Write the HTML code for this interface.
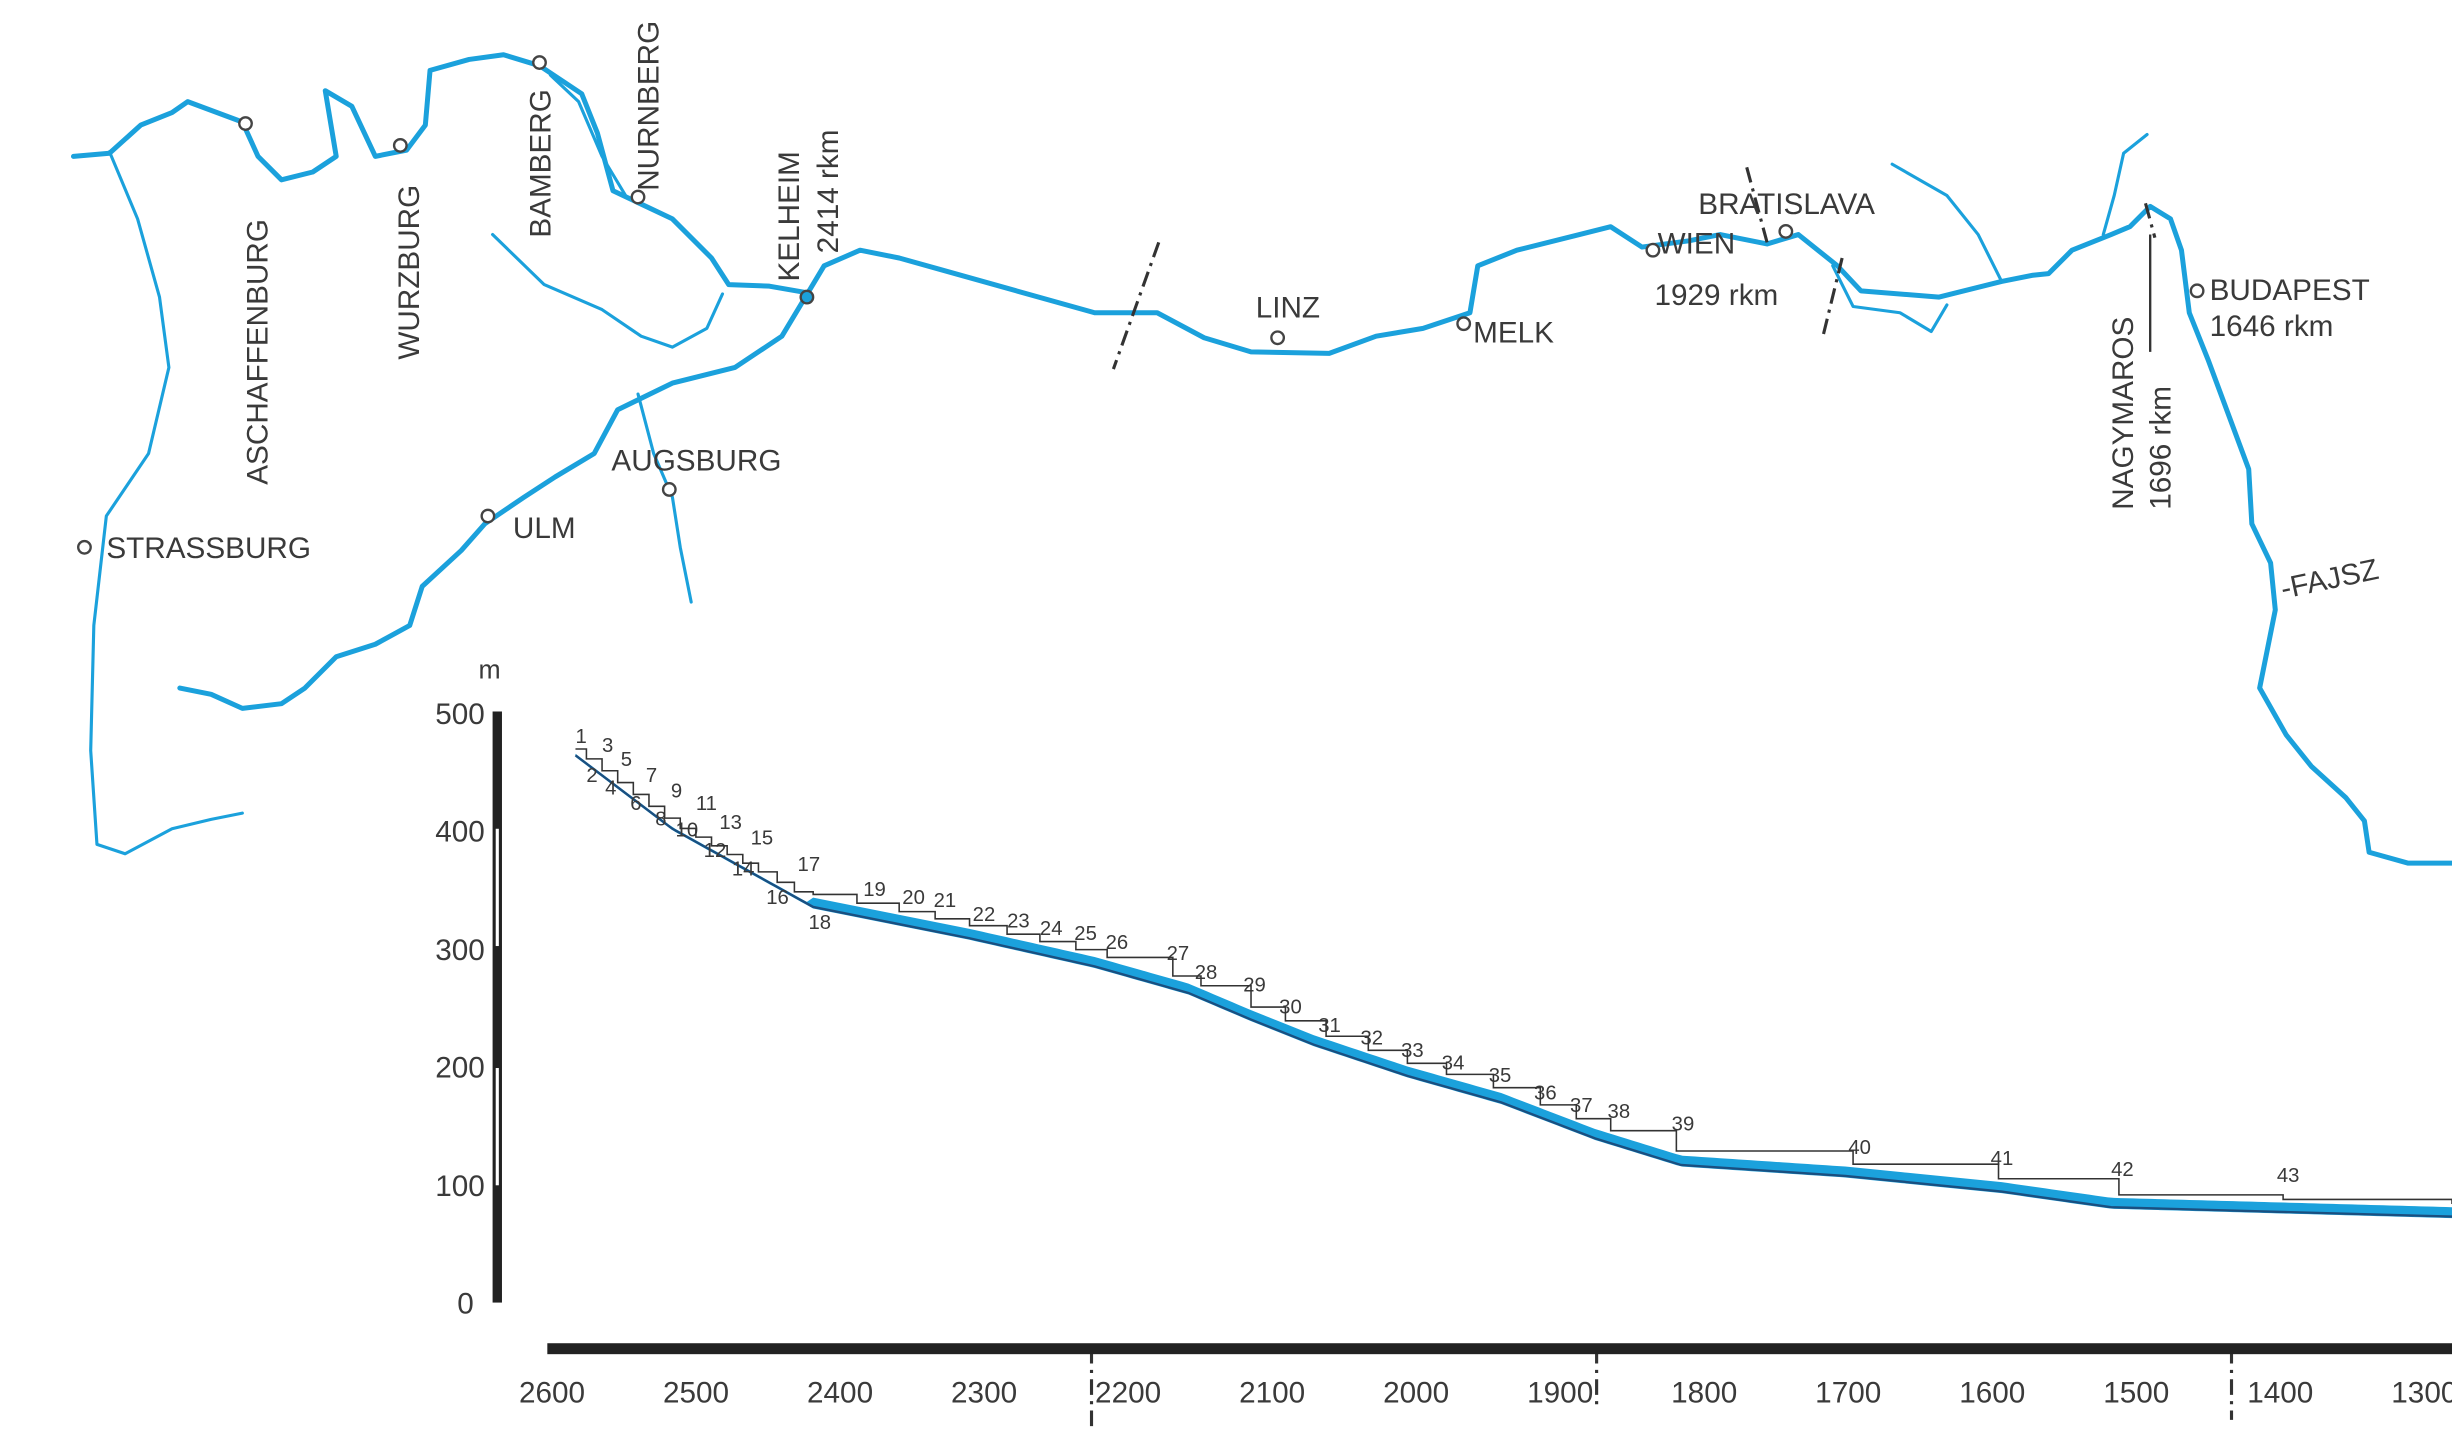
<!DOCTYPE html>
<html><head><meta charset="utf-8"><style>
html,body{margin:0;padding:0;background:#fff;}
svg{display:block}
text{font-family:"Liberation Sans",sans-serif;fill:#3a3a3a}
</style></head><body>
<svg id="s" width="2452" height="1448" viewBox="0 0 1568 926" preserveAspectRatio="none" xmlns="http://www.w3.org/2000/svg">
<g fill="none" stroke="#1ba1dc" stroke-width="3.2" stroke-linejoin="round" stroke-linecap="round">
<polyline points="115,440 135,444 155,453 180,450 195,440 215,420 240,412 262,400 270,375 295,352 310,335 335,318 355,305 380,290 395,262 430,245 470,235 500,215 515,190 527,170 550,160 575,165 600,172 650,186 700,200 740,200 770,216 800,225 850,226 880,215 910,210 940,200 945,170 970,160 1010,150 1030,145 1050,158 1080,154 1100,150 1130,156 1150,150 1175,170 1190,186 1240,190 1280,180 1300,176 1310,175 1325,160 1350,150 1362,145 1375,132 1388,140 1395,160 1400,200 1412,230 1425,265 1438,300 1440,335 1452,360 1455,390 1445,440 1462,470 1478,490 1500,510 1512,525 1515,545 1540,552 1568,552"/>
<polyline points="47,100 70,98 90,80 110,72 120,65 155,78 165,100 180,115 200,110 215,100 210,70 208,58 225,68 240,100 260,96 272,80 275,45 300,38 322,35 345,42 372,60 382,85 392,122 430,140 455,165 466,182 492,183 515,187"/>
<polyline stroke-width="2" points="70,97 88,140 102,190 108,235 95,290 68,330 60,400 58,480 62,540 80,546 110,530 135,524 155,520"/>
<polyline stroke-width="2" points="315,150 348,182 385,198 410,215 430,222 452,210 462,188"/>
<polyline stroke-width="2" points="408,252 418,290 430,318 435,350 442,385"/>
<polyline stroke-width="2" points="352,48 370,65 385,100 400,125"/>
<polyline stroke-width="2" points="1210,105 1245,125 1265,150 1280,180"/>
<polyline stroke-width="2" points="1172,170 1185,196 1215,200 1235,212 1245,195"/>
<polyline stroke-width="2" points="1373,86 1358,98 1352,125 1345,150"/>
</g>
<g fill="#fff" stroke="#444" stroke-width="1.5">
<circle cx="157" cy="79" r="4"/><circle cx="256" cy="93" r="4"/><circle cx="345" cy="40" r="4"/><circle cx="408" cy="126" r="4"/>
<circle cx="54" cy="350" r="4"/><circle cx="312" cy="330" r="4"/><circle cx="428" cy="313" r="4"/><circle cx="817" cy="216" r="4"/>
<circle cx="936" cy="207" r="4"/><circle cx="1057" cy="160" r="4"/><circle cx="1142" cy="148" r="4"/><circle cx="1405" cy="186" r="4"/>
<circle cx="516" cy="190" r="4" fill="#1ba1dc"/>
</g>
<g stroke="#333" stroke-width="2" stroke-dasharray="10,4,2,4" fill="none">
<line x1="741" y1="155" x2="712" y2="236"/><line x1="1117" y1="107" x2="1130" y2="155"/><line x1="1178" y1="165" x2="1166" y2="214"/>
<line x1="1372" y1="130" x2="1378" y2="152"/>
<line x1="698" y1="862" x2="698" y2="912"/><line x1="1021" y1="862" x2="1021" y2="900"/><line x1="1427" y1="862" x2="1427" y2="908"/>
</g>
<line x1="1375" y1="150" x2="1375" y2="225" stroke="#333" stroke-width="1.5"/>
<g font-size="19">
<text x="68" y="357">STRASSBURG</text>
<text transform="translate(171,310) rotate(-90)">ASCHAFFENBURG</text>
<text transform="translate(268,230) rotate(-90)">WURZBURG</text>
<text transform="translate(352,152) rotate(-90)">BAMBERG</text>
<text transform="translate(421,122) rotate(-90)">NURNBERG</text>
<text transform="translate(511,180) rotate(-90)">KELHEIM</text>
<text transform="translate(536,162) rotate(-90)">2414 rkm</text>
<text x="328" y="344">ULM</text>
<text x="391" y="301">AUGSBURG</text>
<text x="803" y="203">LINZ</text>
<text x="942" y="219">MELK</text>
<text x="1060" y="162">WIEN</text>
<text x="1058" y="195">1929 rkm</text>
<text x="1086" y="137">BRATISLAVA</text>
<text transform="translate(1364,326) rotate(-90)">NAGYMAROS</text>
<text transform="translate(1388,326) rotate(-90)">1696 rkm</text>
<text x="1413" y="192">BUDAPEST</text>
<text x="1413" y="215">1646 rkm</text>
<text transform="translate(1460,383) rotate(-12)">-FAJSZ</text>
</g>
<rect x="315" y="455" width="6" height="378" fill="#222"/>
<rect x="317" y="530" width="2" height="75" fill="#fff"/><rect x="317" y="683" width="2" height="75" fill="#fff"/>
<g font-size="19" text-anchor="end">
<text x="310" y="463">500</text><text x="310" y="538">400</text><text x="310" y="614">300</text><text x="310" y="689">200</text><text x="310" y="765">100</text><text x="303" y="840">0</text>
</g>
<text x="306" y="434" font-size="17">m</text>
<rect x="350" y="859" width="1218" height="7" fill="#222"/>
<g id="xl" font-size="19" text-anchor="middle"></g>
<g id="prof"></g>
</svg>
<script>
(function(){
var ns="http://www.w3.org/2000/svg";
function el(t,a,p,txt){var e=document.createElementNS(ns,t);for(var k in a)e.setAttribute(k,a[k]);if(txt!=null)e.textContent=txt;(p||document.getElementById('s')).appendChild(e);return e;}
var xl=document.getElementById('xl');
for(var i=0;i<14;i++){el('text',{x:353+i*92.1,y:897},xl,String(2600-i*100));}
var bed=[[368,483],[430,530],[520,580],[620,600],[700,618],[760,635],[800,652],[840,668],[900,688],[960,705],[1020,728],[1075,745],[1180,752],[1280,762],[1350,772],[1568,778]];
function by(x){for(var i=1;i<bed.length;i++){if(x<=bed[i][0]){var a=bed[i-1],b=bed[i];return a[1]+(b[1]-a[1])*(x-a[0])/(b[0]-a[0]);}}return bed[bed.length-1][1];}
var pr=document.getElementById('prof');
var upper=[],lower=[];for(var x=368;x<=1568;x+=4){upper.push(x+','+(by(x)-(x<520?1:6)));lower.unshift(x+','+(by(x)+1));}
el('polygon',{points:upper.concat(lower).join(' '),fill:'#1ba1dc'},pr);
el('polyline',{points:bed.map(function(p){return p.join(',')}).join(' '),fill:'none',stroke:'#1a4f80','stroke-width':1.5},pr);
var labs=[[1,368,475],[2,375,500],[3,385,481],[4,387,508],[5,397,490],[6,403,518],[7,413,500],[8,419,528],[9,429,510],[10,432,535],[11,445,518],[12,450,548],[13,460,530],[14,468,560],[15,480,540],[16,490,578],[17,510,557],[18,517,594],[19,552,573],[20,577,578],[21,597,580],[22,622,589],[23,644,593],[24,665,598],[25,687,601],[26,707,607],[27,746,614],[28,764,626],[29,795,634],[30,818,648],[31,843,660],[32,870,668],[33,896,676],[34,922,684],[35,952,692],[36,981,703],[37,1004,711],[38,1028,715],[39,1069,723],[40,1182,738],[41,1273,745],[42,1350,752],[43,1456,756]];
labs.forEach(function(l){el('text',{x:l[1],y:l[2],'font-size':13},pr,String(l[0]));});
var wx=[375,385,395,405,415,425,435,445,455,465,475,485,497,508,520,548,575,598,620,644,665,688,708,750,768,800,822,848,875,900,925,955,985,1008,1030,1072,1185,1278,1355,1460,1568];
var pts=[];var prevY=by(368)-4;pts.push('368,'+prevY);
for(var i=0;i<wx.length;i++){var x2=wx[i];pts.push(x2+','+prevY);var ny=by(x2)-(x2<520?3:8);pts.push(x2+','+ny);prevY=ny;}
el('polyline',{points:pts.join(' '),fill:'none',stroke:'#333','stroke-width':1},pr);
})();
</script>
</body></html>
